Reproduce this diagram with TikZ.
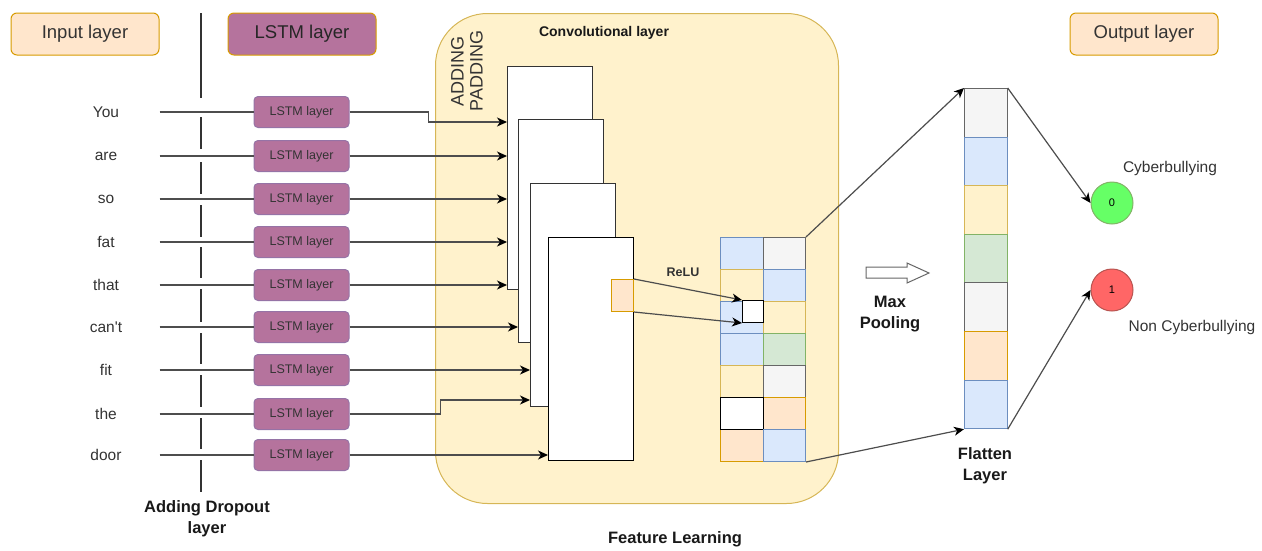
\documentclass[tikz,border=0pt]{standalone}
\usepackage{fontspec}
\setmainfont{Liberation Sans}
\usetikzlibrary{arrows.meta,calc}
\definecolor{orF}{HTML}{FFE6CC}
\definecolor{orS}{HTML}{D79B00}
\definecolor{puF}{HTML}{B5739D}
\definecolor{puS}{HTML}{9673A6}
\definecolor{yeF}{HTML}{FFF2CC}
\definecolor{yeS}{HTML}{D6B656}
\definecolor{blF}{HTML}{DAE8FC}
\definecolor{blS}{HTML}{6C8EBF}
\definecolor{grF}{HTML}{F5F5F5}
\definecolor{grS}{HTML}{666666}
\definecolor{gnF}{HTML}{D5E8D4}
\definecolor{gnS}{HTML}{82B366}
\definecolor{txt}{HTML}{333333}
\definecolor{ln}{HTML}{4D4D4D}
\definecolor{czF}{HTML}{66FF66}
\definecolor{coF}{HTML}{FF6666}
\definecolor{coS}{HTML}{B85450}
\begin{document}
\begin{tikzpicture}[x=1pt,y=-1pt,line width=1pt,
 hdr/.style={draw=orS,rounded corners=6pt,minimum width=148pt,minimum height=42pt,inner sep=0pt,text=txt,font=\fontsize{18.5}{22}\selectfont},
 word/.style={minimum width=106pt,inner sep=0pt,text=txt,font=\fontsize{15.5}{18}\selectfont},
 lstmbox/.style={draw=puS,fill=puF,rounded corners=4pt,minimum width=95pt,minimum height=31pt,inner sep=0pt,text=txt,font=\fontsize{12.5}{15}\selectfont},
 conv/.style={draw=black!80,fill=white,minimum width=85pt,minimum height=223pt,anchor=north west,inner sep=0pt},
 cell/.style={minimum width=42.5pt,minimum height=32pt,anchor=north west,inner sep=0pt},
 fcell/.style={minimum width=42.7pt,minimum height=48.6pt,anchor=north west,inner sep=0pt},
 cB/.style={draw=blS,fill=blF},cY/.style={draw=yeS,fill=yeF},cG/.style={draw=grS,fill=grF},
 cN/.style={draw=gnS,fill=gnF},cO/.style={draw=orS,fill=orF},cW/.style={draw=black,fill=white},
 bold/.style={font=\bfseries\fontsize{16.5}{21}\selectfont,align=center,text=black!90},
 arr/.style={draw=ln,line width=1.2pt,-{Stealth[length=10pt,width=9pt,inset=3pt,color=black,fill=black]}},
 conn/.style={draw=ln,line width=1.2pt},
 lbl/.style={text=txt,font=\fontsize{15.5}{18}\selectfont}
 ]
\useasboundingbox (0,0) rectangle (1262,550);
% headers
\node[hdr,fill=orF] (hin) at (85,34) {Input layer};
\node[hdr,fill=puF,text=black!85] (hlstm) at (302,34) {LSTM layer};
\node[hdr,fill=orF] (hout) at (1144,34) {Output layer};
% feature learning container
\node[draw=yeS,fill=yeF,rounded corners=52pt,minimum width=403pt,minimum height=490pt,anchor=north west,inner sep=0pt] (feat) at (435,13) {};
% dropout line
\foreach \a/\b in {13/98,117/149,162/194,205/237,247/278,289/322,333/364,375/407,418/449,460/492}
  \draw[draw=txt,line width=1.1pt] (201,\a) -- (201,\b);
% words and lstm boxes
\foreach \i/\w/\y in {1/You/112,2/are/156,3/so/199,4/fat/242,5/that/285,6/{can\textquotesingle t}/327,7/fit/370,8/the/414,9/door/455}{
  \node[word] (w\i) at (106,\y) {\w};
  \node[lstmbox] (l\i) at (301.5,\y) {LSTM layer};
  \draw[conn] (w\i.east) -- (l\i.west);
}
% conv maps
\node[conv] (R1) at (507,66) {};
\node[conv] (R2) at (518,119) {};
\node[conv] (R3) at (530,183) {};
\node[conv,draw=black] (R4) at (548,237) {};
\node[cO,minimum width=22pt,minimum height=32pt,anchor=north west,inner sep=0pt] (kern) at (611,279) {};
% lstm -> conv
\draw[arr] (l1.east) -- ++(79,0) |- ($(R1.north west)+(0,56)$);
\foreach \i in {2,3,4,5} \draw[arr] (l\i.east) -- (l\i.east -| R1.west);
\draw[arr] (l6.east) -- (l6.east -| R2.west);
\draw[arr] (l7.east) -- (l7.east -| R3.west);
\draw[arr] (l8.east) -- ++(91,0) |- ($(R3.north west)+(0,217)$);
\draw[arr] (l9.east) -- (l9.east -| R4.west);
% labels in container
\node[text=txt,font=\fontsize{18}{19}\selectfont,rotate=90,align=center,inner sep=0pt] (pad) at (467,71) {ADDING\\PADDING};
\node[font=\bfseries\fontsize{14}{16}\selectfont,text=black!90] (convl) at (604,33) {Convolutional layer};
\node[font=\bfseries\fontsize{12.5}{15}\selectfont,text=txt] (relu) at (683,272) {ReLU};
% pooled grid
\node[cell,cB] (g11) at (720,237) {};   \node[cell,cG] (g12) at (762.5,237) {};
\node[cell,cY] (g21) at (720,269) {};   \node[cell,cB] (g22) at (762.5,269) {};
\node[cell,cB] (g31) at (720,301) {};   \node[cell,cY] (g32) at (762.5,301) {};
\node[cell,cB] (g41) at (720,333) {};   \node[cell,cN] (g42) at (762.5,333) {};
\node[cell,cY] (g51) at (720,365) {};   \node[cell,cG] (g52) at (762.5,365) {};
\node[cell,cO] (g71) at (720,429) {};
\node[cell,cO] (g62) at (762.5,397) {};
\node[cell,cW] (g61) at (720,397) {};
\node[cell,cB] (g72) at (762.5,429) {};
\node[cW,minimum width=21pt,minimum height=22pt,anchor=north west,inner sep=0pt] (sq) at (742,300) {};
\draw[arr] (kern.north east) -- (sq.north west);
\draw[arr] (kern.south east) -- (sq.south west);
% flatten
\node[fcell,cG] (f1) at (964,88) {};
\node[fcell,cB] (f2) at (964,136.6) {};
\node[fcell,cY] (f3) at (964,185.2) {};
\node[fcell,cN] (f4) at (964,233.8) {};
\node[fcell,cG] (f5) at (964,282.4) {};
\node[fcell,cO] (f6) at (964,331) {};
\node[fcell,cB] (f7) at (964,379.6) {};
\draw[arr] (g12.north east) -- (f1.north west);
\draw[arr] (g72.south east) -- (f7.south west);
% max pooling arrow
\draw[draw=grS,fill=white,line width=1pt] (866,267) -- (907,267) -- (907,263) -- (929,273) -- (907,283) -- (907,278) -- (866,278) -- cycle;
\node[bold] (mp) at (890,314) {Max\\Pooling};
\node[bold] (fl) at (985,466) {Flatten\\Layer};
\node[bold] (dr) at (207,519) {Adding Dropout\\layer};
\node[bold] (fe) at (675,539) {Feature Learning};
% outputs
\node[circle,draw=gnS,fill=czF,minimum size=42pt,inner sep=0pt,font=\fontsize{11}{12}\selectfont] (c0) at (1112,203) {0};
\node[circle,draw=coS,fill=coF,minimum size=42pt,inner sep=0pt,font=\fontsize{11}{12}\selectfont] (c1) at (1112,290) {1};
\draw[arr] (f1.north east) -- (c0.west);
\draw[arr] (f7.south east) -- (c1.west);
\node[lbl] (cyb) at (1170,168) {Cyberbullying};
\node[lbl] (ncyb) at (1192,327) {Non Cyberbullying};
\end{tikzpicture}
\end{document}
